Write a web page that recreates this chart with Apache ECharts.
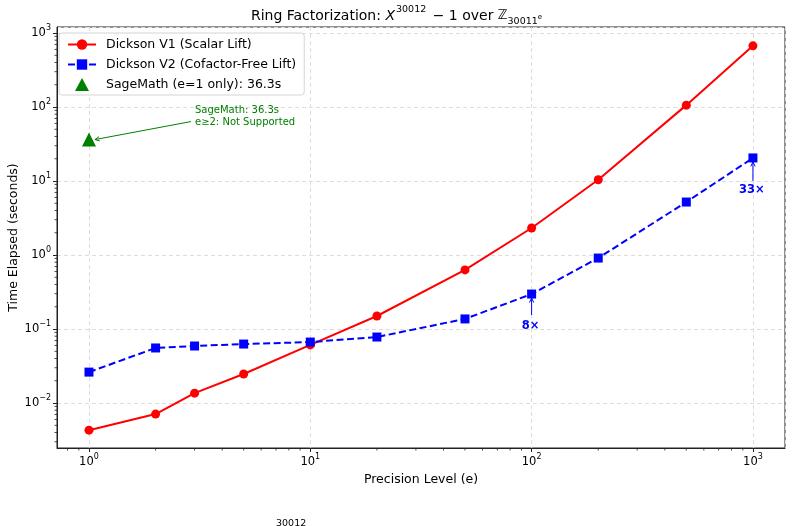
<!DOCTYPE html>
<html>
<head>
<meta charset="utf-8">
<script src="https://cdn.jsdelivr.net/npm/echarts@6.0.0/dist/echarts.min.js"></script>
<style>
  html, body { margin: 0; padding: 0; background: #fff; }
  #chart { width: 793px; height: 526px; }
</style>
</head>
<body>
<div id="chart"></div>
<script>
// precision levels (e) and timings in seconds
const precision = [1, 2, 3, 5, 10, 20, 50, 100, 200, 500, 1000];
const dicksonV1 = [0.0043, 0.0071, 0.0136, 0.0247, 0.061, 0.150, 0.63, 2.32, 10.4, 106, 670];
const dicksonV2 = [0.0262, 0.0555, 0.059, 0.0627, 0.0667, 0.078, 0.137, 0.297, 0.91, 5.2, 20.5];
const sagemath = [[1, 36.3]];
const xTickExp = { 1: '0', 10: '1', 100: '2', 1000: '3' };
const yTickExp = { 0.01: '−2', 0.1: '−1', 1: '0', 10: '1', 100: '2', 1000: '3' };

const X_MIN = 0.717, X_MAX = 1396;
const Y_MIN = 0.00247, Y_MAX = 1205;
const FONT = 'DejaVu Sans';

// minor tick positions (2..9 per decade), matplotlib style
function minorTicks(lo, hi) {
  const out = [];
  for (let d = -4; d <= 4; d++) {
    for (let m = 2; m <= 9; m++) {
      const v = m * Math.pow(10, d);
      if (v > lo && v < hi) out.push(v);
    }
  }
  return out;
}
const minorData = minorTicks(X_MIN, X_MAX).map(v => [v, Y_MIN, 0])
  .concat(minorTicks(Y_MIN, Y_MAX).map(v => [X_MIN, v, 1]));

// annotations: point, text, pixel offsets
const notes = [
  { pt: [1, 36.3], text: 'SageMath: 36.3s\ne≥2: Not Supported', color: '#008000', bold: false,
    tip: [6, 0], tail: [102, -18], txt: [106, -23], align: 'left' },
  { pt: [100, dicksonV2[7]], text: '8×', color: '#0000ff', bold: true,
    tip: [0, 4], tail: [0, 21], txt: [-1, 32], align: 'center' },
  { pt: [1000, dicksonV2[10]], text: '33×', color: '#0000ff', bold: true,
    tip: [0, 4], tail: [0, 23], txt: [-1, 32], align: 'center' }
];

const chart = echarts.init(document.getElementById('chart'));

function lbl(map) {
  return function (v) {
    for (const k in map) {
      if (Math.abs(Math.log10(v) - Math.log10(+k)) < 1e-6) return '{b|10}{s|' + map[k] + '}';
    }
    return '';
  };
}
const tickRich = {
  b: { fontSize: 11.5, color: '#000', fontFamily: FONT, lineHeight: 18 },
  s: { fontSize: 8, color: '#000', fontFamily: FONT, verticalAlign: 'top', lineHeight: 18 }
};
const T = { color: '#000', fontFamily: FONT, fontWeight: 'normal', lineHeight: 22 };

chart.setOption({
  animation: false,
  textStyle: { fontFamily: FONT },
  title: {
    text: '{n|Ring Factorization: }{i|X}{sup|30012}{n| − 1 over }{z|ℤ}{sub|30011}{ss|e}',
    left: 'center',
    top: 0,
    textStyle: {
      fontWeight: 'normal',
      rich: {
        n: Object.assign({ fontSize: 14 }, T),
        i: Object.assign({ fontSize: 14, fontStyle: 'italic' }, T),
        sup: Object.assign({ fontSize: 9.5, verticalAlign: 'top', padding: [0, 2, 0, 1] }, T),
        z: Object.assign({ fontSize: 13 }, T),
        sub: Object.assign({ fontSize: 9.5, verticalAlign: 'bottom' }, T),
        ss: Object.assign({ fontSize: 7, verticalAlign: 'bottom', padding: [0, 0, 6, 0] }, T)
      }
    }
  },
  legend: {
    orient: 'vertical',
    left: 59,
    top: 33,
    padding: [5, 8, 4, 8],
    itemGap: 7,
    itemWidth: 28,
    itemHeight: 13,
    borderColor: '#d4d4d4',
    borderWidth: 1,
    borderRadius: 3,
    backgroundColor: 'rgba(255,255,255,0.85)',
    textStyle: { fontSize: 12.5, color: '#000', fontFamily: FONT, padding: [0, 0, 0, 5] },
    data: [
      'Dickson V1 (Scalar Lift)',
      'Dickson V2 (Cofactor-Free Lift)',
      { name: 'SageMath (e=1 only): 36.3s', icon: 'path://M0,0M28,13M7,13L14,0L21,13Z' }
    ]
  },
  grid: {
    left: 57, right: 8, top: 27, bottom: 78,
    outerBoundsMode: 'none',
    containLabel: false,
    show: true, borderColor: '#222', borderWidth: 1, backgroundColor: 'transparent'
  },
  xAxis: {
    type: 'log',
    min: X_MIN, max: X_MAX,
    name: 'Precision Level (e)',
    nameLocation: 'middle',
    nameGap: 25,
    nameMoveOverlap: false,
    nameTextStyle: { fontSize: 12.5, color: '#000', fontFamily: FONT },
    axisLine: { show: true, lineStyle: { color: '#222' } },
    axisTick: { show: true, length: 4, lineStyle: { color: '#222' } },
    axisLabel: { margin: 5, showMinLabel: false, showMaxLabel: false, formatter: lbl(xTickExp), rich: tickRich },
    splitLine: { show: true, lineStyle: { color: '#dcdcdc', type: [4, 3] } }
  },
  yAxis: {
    type: 'log',
    min: Y_MIN, max: Y_MAX,
    name: 'Time Elapsed (seconds)',
    nameLocation: 'middle',
    nameGap: 37,
    nameMoveOverlap: false,
    nameTextStyle: { fontSize: 12.5, color: '#000', fontFamily: FONT },
    axisLine: { show: true, lineStyle: { color: '#222' } },
    axisTick: { show: true, length: 4, lineStyle: { color: '#222' } },
    axisLabel: { margin: 6, showMinLabel: false, showMaxLabel: false, formatter: lbl(yTickExp), rich: tickRich },
    splitLine: { show: true, lineStyle: { color: '#dcdcdc', type: [4, 3] } }
  },
  graphic: [
    { type: 'text', left: 276, top: 519, style: { text: '30012', fontSize: 9.5, fill: '#000', fontFamily: FONT } }
  ],
  series: [
    {
      name: 'Dickson V1 (Scalar Lift)',
      type: 'line',
      data: precision.map((e, i) => [e, dicksonV1[i]]),
      symbol: 'circle',
      symbolSize: 9,
      itemStyle: { color: '#ff0000' },
      lineStyle: { color: '#ff0000', width: 2 },
      z: 3
    },
    {
      name: 'Dickson V2 (Cofactor-Free Lift)',
      type: 'line',
      data: precision.map((e, i) => [e, dicksonV2[i]]),
      symbol: 'rect',
      symbolSize: 9,
      itemStyle: { color: '#0000ff' },
      lineStyle: { color: '#0000ff', width: 2, type: [7, 3.5] },
      z: 3
    },
    {
      name: 'SageMath (e=1 only): 36.3s',
      type: 'scatter',
      data: sagemath,
      symbol: 'triangle',
      symbolSize: 14,
      itemStyle: { color: '#008000', opacity: 1 },
      z: 4
    },
    {
      type: 'custom',
      silent: true,
      data: minorData,
      renderItem: function (params, api) {
        const p = api.coord([api.value(0), api.value(1)]);
        const vertical = api.value(2) === 0;
        return {
          type: 'line',
          shape: vertical
            ? { x1: p[0], y1: p[1], x2: p[0], y2: p[1] + 2.5 }
            : { x1: p[0] - 2.5, y1: p[1], x2: p[0], y2: p[1] },
          style: { stroke: '#222', lineWidth: 0.8 }
        };
      },
      z: 1
    },
    {
      type: 'custom',
      silent: true,
      data: notes.map(n => n.pt),
      renderItem: function (params, api) {
        const n = notes[params.dataIndex];
        const p = api.coord([api.value(0), api.value(1)]);
        const tip = [p[0] + n.tip[0], p[1] + n.tip[1]];
        const tail = [p[0] + n.tail[0], p[1] + n.tail[1]];
        const ang = Math.atan2(tip[1] - tail[1], tip[0] - tail[0]);
        const h = 5, w = 0.45;
        const head = [
          [tip[0] - h * Math.cos(ang - w), tip[1] - h * Math.sin(ang - w)],
          tip,
          [tip[0] - h * Math.cos(ang + w), tip[1] - h * Math.sin(ang + w)]
        ];
        return {
          type: 'group',
          children: [
            { type: 'line', shape: { x1: tail[0], y1: tail[1], x2: tip[0], y2: tip[1] },
              style: { stroke: n.color, lineWidth: 1 } },
            { type: 'polyline', shape: { points: head },
              style: { stroke: n.color, lineWidth: 1, fill: null } },
            { type: 'text', x: p[0] + n.txt[0], y: p[1] + n.txt[1],
              style: { text: n.text, fill: n.color, fontSize: n.bold ? 11.5 : 10,
                fontWeight: n.bold ? 'bold' : 'normal', fontFamily: FONT,
                align: n.align, verticalAlign: 'middle', lineHeight: 12 } }
          ]
        };
      },
      z: 5
    }
  ]
});
</script>
</body>
</html>
